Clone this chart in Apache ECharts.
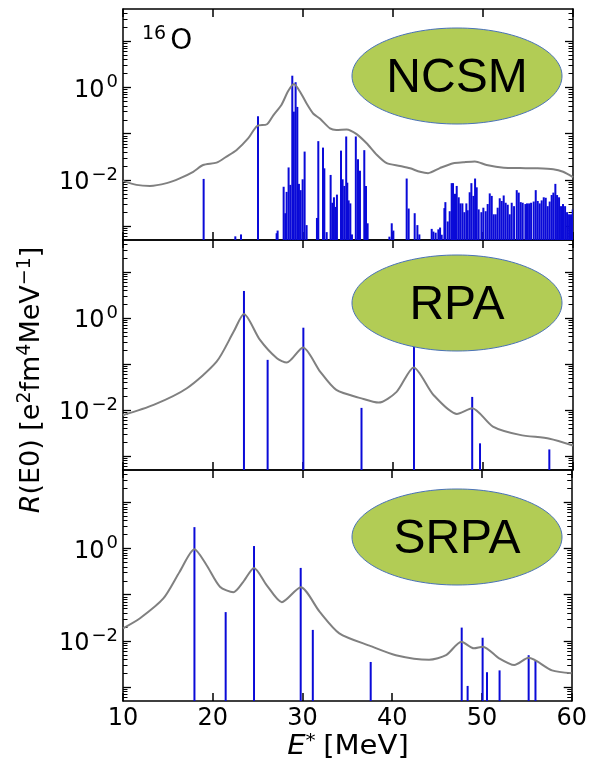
<!DOCTYPE html>
<html>
<head>
<meta charset="utf-8">
<script src="https://cdn.jsdelivr.net/npm/echarts@6/dist/echarts.min.js"></script>
<style>
  html, body { margin: 0; padding: 0; background: #fff; }
  #main { width: 590px; height: 766px; }
</style>
</head>
<body>
<div id="main"></div>
<script>
// --- data ---
var ncsmE = [18.96, 22.48, 23.11, 25.0, 27.07, 27.18, 27.85, 28.03, 28.18, 28.40, 28.59, 28.81, 28.98, 29.18, 29.37,
    29.55, 29.74, 29.96, 30.18, 30.40, 31.55, 31.70, 32.22, 32.37, 32.63, 33.07, 33.26, 33.44, 33.63, 33.77,
    34.22, 34.40, 34.59, 34.80, 34.92, 35.07, 35.26, 35.44, 35.87, 36.11, 36.33, 36.81, 37.0, 37.18,
    39.60, 39.86, 40.04, 41.52, 41.74, 42.41, 42.71, 42.93,
    44.30, 44.49, 44.74, 45.04, 45.23, 45.41, 45.71, 45.82, 46.08, 46.30, 46.52, 46.67, 46.89, 47.08, 47.30,
    47.49, 47.71, 47.93, 48.15, 48.30, 48.52, 48.71, 48.93, 49.12, 49.30, 49.52, 49.82, 50.04, 50.30, 50.52,
    50.75, 50.97, 51.19, 51.41, 51.63, 51.86, 52.08, 52.30, 52.52, 52.75, 52.97, 53.19, 53.45, 53.75, 53.97,
    54.19, 54.41, 54.71, 54.89, 55.12, 55.34, 55.63, 55.86, 56.08, 56.30, 56.52, 56.75, 56.97, 57.19, 57.41,
    57.63, 57.82, 58.04, 58.23, 58.45, 58.67, 58.89, 59.12, 59.34, 59.56, 59.78, 59.97];
var ncsmR = [0.0105, 0.0006, 0.00066, 0.24, 0.0007, 0.0008, 0.0071, 0.0019, 0.0055, 0.0186, 0.0078, 1.8, 0.3, 1.3, 0.38,
    0.0082, 0.006, 0.0103, 0.041, 0.00105, 0.0015, 0.069, 0.05, 0.0178, 0.00074, 0.0128, 0.0032, 0.0042, 0.0026, 0.0048,
    0.043, 0.0103, 0.0074, 0.087, 0.0087, 0.0036, 0.0031, 0.00066, 0.087, 0.028, 0.0158, 0.044, 0.0074, 0.00115,
    0.00059, 0.00115, 0.0008, 0.0107, 0.0024, 0.0019, 0.00105, 0.00066,
    0.00087, 0.00076, 0.00072, 0.00085, 0.00093, 0.00065, 0.00245, 0.0033, 0.00126, 0.0021, 0.0085, 0.0085, 0.0050, 0.0074, 0.0042,
    0.0031, 0.0031, 0.0020, 0.0031, 0.0022, 0.0054, 0.0085, 0.0045, 0.0107, 0.0069, 0.0023, 0.0020, 0.0025, 0.0021, 0.0030,
    0.0051, 0.0045, 0.0018, 0.0018, 0.0025, 0.0040, 0.0035, 0.0046, 0.0032, 0.0029, 0.0018, 0.0032, 0.0027, 0.0060, 0.0053,
    0.0033, 0.0032, 0.0030, 0.0031, 0.0031, 0.0032, 0.0034, 0.0060, 0.0035, 0.0031, 0.0036, 0.0042, 0.0041, 0.0027, 0.0034,
    0.0047, 0.0053, 0.0082, 0.0047, 0.0042, 0.0027, 0.0030, 0.0027, 0.0020, 0.0018, 0.0018, 0.0023];
var ncsmCurveE = [10.0, 11.5, 13.0, 14.85, 16.3, 17.8, 18.9, 20.4, 21.5, 22.6, 23.9, 24.9, 26.0, 26.7, 27.6, 28.37,
    29.0, 29.67, 30.4, 31.15, 31.9, 33.0, 33.7, 34.85, 35.96, 37.07, 38.19, 39.3, 40.78, 41.9, 43.0, 43.9,
    45.2, 46.7, 47.8, 49.1, 50.4, 52.3, 54.1, 55.9, 57.8, 58.9, 60.0];
var ncsmCurveR = [0.0095, 0.0078, 0.0074, 0.0085, 0.0108, 0.015, 0.021, 0.0236, 0.032, 0.044, 0.079, 0.147, 0.16, 0.25, 0.42, 0.85,
    1.19, 0.81, 0.45, 0.27, 0.21, 0.13, 0.12, 0.124, 0.098, 0.062, 0.035, 0.023, 0.020, 0.0178, 0.015, 0.014,
    0.018, 0.023, 0.024, 0.025, 0.021, 0.0183, 0.018, 0.0178, 0.017, 0.015, 0.0115];

var rpaE = [23.44, 26.07, 30.04, 36.5, 42.33, 48.8, 49.67, 57.37];
var rpaR = [3.9, 0.124, 0.62, 0.0112, 0.3, 0.0194, 0.0019, 0.0014];
var rpaCurveE = [10.0, 13.4, 17.1, 20.4, 22.3, 23.44, 25.2, 27.1, 28.2, 30.0, 31.9, 33.7, 36.5, 38.4, 40.4, 42.3,
    44.5, 47.1, 48.8, 51.1, 54.1, 57.4, 60.0];
var rpaCurveR = [0.0078, 0.013, 0.030, 0.113, 0.51, 1.23, 0.34, 0.134, 0.108, 0.23, 0.069, 0.0275, 0.018, 0.0146, 0.025, 0.085,
    0.0214, 0.0083, 0.011, 0.0044, 0.0029, 0.0024, 0.0017];

var srpaE = [17.96, 21.44, 24.6, 29.8, 31.15, 37.6, 47.74, 48.4, 50.07, 50.56, 51.96, 55.2, 55.96];
var srpaR = [2.9, 0.042, 1.13, 0.38, 0.0173, 0.0035, 0.0194, 0.00106, 0.0117, 0.0021, 0.0023, 0.0049, 0.0037];
var srpaCurveE = [10.0, 11.9, 14.5, 16.3, 17.96, 19.3, 20.8, 22.3, 23.4, 24.6, 26.0, 27.7, 29.8, 31.9, 34.1, 37.6,
    40.4, 44.1, 46.0, 47.7, 49.1, 50.1, 51.9, 53.6, 55.2, 57.8, 60.0];
var srpaCurveR = [0.0187, 0.031, 0.083, 0.31, 0.96, 0.44, 0.149, 0.113, 0.19, 0.38, 0.162, 0.069, 0.145, 0.043, 0.0146, 0.0077,
    0.0049, 0.0039, 0.0049, 0.0096, 0.0069, 0.0075, 0.0042, 0.0030, 0.0043, 0.0023, 0.0020];

var methods = ['NCSM', 'RPA', 'SRPA'];
var xTicks = [10, 20, 30, 40, 50, 60];
var yMin = 5e-4, yMax = 50;
var yMajorTicks = [0.001, 0.01, 0.1, 1, 10];
var yLabelTicks = [0.01, 1];
var yMinorTicks = [];
[1e-4, 1e-3, 1e-2, 1e-1, 1, 10].forEach(function (d) {
    for (var k = 2; k <= 9; k++) {
        var v = +(k * d).toPrecision(3);
        if (v > yMin && v < yMax) yMinorTicks.push(v);
    }
});

var panels = [
    { top: 9, height: 231, E: ncsmE, R: ncsmR, cE: ncsmCurveE, cR: ncsmCurveR, cy: 76, ty: 79 },
    { top: 240, height: 230, E: rpaE, R: rpaR, cE: rpaCurveE, cR: rpaCurveR, cy: 303, ty: 306 },
    { top: 470, height: 231, E: srpaE, R: srpaR, cE: srpaCurveE, cR: srpaCurveR, cy: 537, ty: 540 }
];

var font = 'DejaVu Sans';
var black = '#000';

function pairs(xs, ys) {
    return xs.map(function (x, k) { return [x, ys[k]]; });
}

function supLabel(v) {
    var p = Math.round(Math.log(v) / Math.LN10);
    return '{b|10}{s|' + (p < 0 ? '\u2212' + (-p) : p) + '}';
}

var grids = [], xAxes = [], yAxes = [], series = [], graphics = [];

panels.forEach(function (p, i) {
    grids.push({ left: 123, width: 450, top: p.top, height: p.height });

    ['bottom', 'top'].forEach(function (pos) {
        xAxes.push({
            gridIndex: i, type: 'value', position: pos, min: 10, max: 60, interval: 10,
            axisLine: { show: true, lineStyle: { color: black, width: 1.5 } },
            axisTick: { show: true, inside: true, length: 8, lineStyle: { color: black, width: 1.5 } },
            axisLabel: {
                show: pos === 'bottom' && i === 2, color: black, fontSize: 24, fontFamily: font, margin: 6,
                formatter: function (v) { return xTicks.indexOf(v) >= 0 ? String(v) : ''; }
            },
            splitLine: { show: false }
        });
    });

    ['left', 'right'].forEach(function (pos) {
        yAxes.push({
            gridIndex: i, type: 'log', logBase: 10, position: pos, min: yMin, max: yMax,
            axisLine: { show: true, lineStyle: { color: black, width: 1.5 } },
            axisTick: { show: true, inside: true, length: 8, customValues: yMajorTicks, lineStyle: { color: black, width: 1.3 } },
            axisLabel: {
                show: pos === 'left', customValues: yLabelTicks, margin: 5, formatter: supLabel,
                rich: {
                    b: { fontSize: 24, fontFamily: font, color: black, lineHeight: 28, padding: [6, 0, 0, 0] },
                    s: { fontSize: 18, fontFamily: font, color: black, lineHeight: 16, verticalAlign: 'top', padding: [0, 0, 0, 2] }
                }
            },
            splitLine: { show: false }
        });
        yAxes.push({
            gridIndex: i, type: 'log', logBase: 10, position: pos, min: yMin, max: yMax,
            axisLine: { show: false },
            axisTick: { show: true, inside: true, length: 4.5, customValues: yMinorTicks, lineStyle: { color: black, width: 1 } },
            axisLabel: { show: false },
            splitLine: { show: false }
        });
    });

    series.push({
        type: 'custom', xAxisIndex: 2 * i, yAxisIndex: 4 * i, z: 2, clip: true,
        data: pairs(p.E, p.R),
        renderItem: function (params, api) {
            var top = api.coord([api.value(0), api.value(1)]);
            var base = api.coord([api.value(0), yMin]);
            return {
                type: 'line',
                shape: { x1: top[0], y1: top[1], x2: base[0], y2: base[1] },
                style: { stroke: '#0a0ad8', lineWidth: 2 }
            };
        }
    });
    series.push({
        type: 'line', xAxisIndex: 2 * i, yAxisIndex: 4 * i, z: 3,
        data: pairs(p.cE, p.cR), smooth: 0.25, showSymbol: false,
        lineStyle: { color: '#808080', width: 2 }
    });

    graphics.push({
        type: 'ellipse', z: 100,
        shape: { cx: 457, cy: p.cy, rx: 105, ry: 48 },
        style: { fill: '#b2cc55', stroke: '#4a72b8', lineWidth: 1 }
    });
    graphics.push({
        type: 'text', z: 101, x: 457, y: p.ty,
        style: {
            text: methods[i], fill: black, fontSize: 48, fontFamily: 'Liberation Sans',
            align: 'center', verticalAlign: 'middle'
        }
    });
});

graphics.push({
    type: 'text', z: 101, x: 142, y: 42,
    style: {
        text: '{s|16}{b|O}', align: 'left', verticalAlign: 'middle',
        rich: {
            b: { fontSize: 28, fontFamily: font, fill: black, lineHeight: 34 },
            s: { fontSize: 19, fontFamily: font, fill: black, lineHeight: 20, verticalAlign: 'top', padding: [0, 4, 0, 0] }
        }
    }
});
graphics.push({
    type: 'text', z: 101, x: 348, y: 747, scaleX: 1.12,
    style: {
        text: '{i|E}{s|*}  {b|[MeV]}', align: 'center', verticalAlign: 'middle',
        rich: {
            i: { fontSize: 26, fontFamily: font, fontStyle: 'italic', fill: black, lineHeight: 30 },
            b: { fontSize: 26, fontFamily: font, fill: black, lineHeight: 30 },
            s: { fontSize: 18, fontFamily: font, fill: black, lineHeight: 18, verticalAlign: 'top' }
        }
    }
});
graphics.push({
    type: 'text', z: 101, x: 32, y: 380, rotation: Math.PI / 2,
    style: {
        text: '{i|R}{b|(E0) [e}{s|2}{b|fm}{s|4}{b|MeV}{s|\u22121}{b|]}', align: 'center', verticalAlign: 'middle',
        rich: {
            i: { fontSize: 27, fontFamily: font, fontStyle: 'italic', fill: black, lineHeight: 32 },
            b: { fontSize: 27, fontFamily: font, fill: black, lineHeight: 32 },
            s: { fontSize: 19, fontFamily: font, fill: black, lineHeight: 16, verticalAlign: 'top' }
        }
    }
});

var chart = echarts.init(document.getElementById('main'), null, { renderer: 'canvas' });
chart.setOption({
    animation: false,
    backgroundColor: '#fff',
    grid: grids,
    xAxis: xAxes,
    yAxis: yAxes,
    series: series,
    graphic: graphics
});
</script>
</body>
</html>
